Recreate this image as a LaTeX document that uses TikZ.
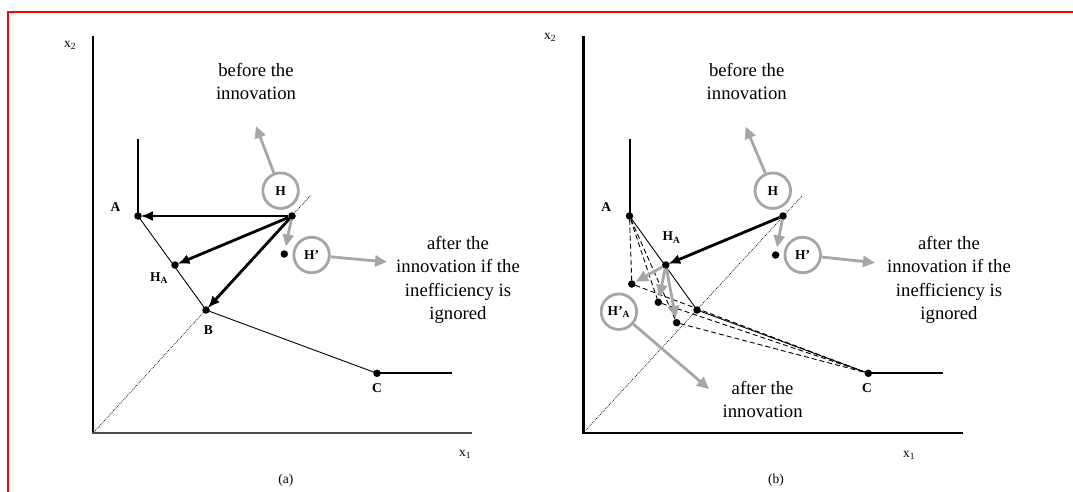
\documentclass[tikz,border=0pt]{standalone}
\usepackage{fontspec}
\setmainfont{Liberation Serif}
\usetikzlibrary{arrows.meta}
\definecolor{cgray}{RGB}{166,166,166}
\definecolor{axgray}{RGB}{80,80,80}
\begin{document}
\begin{tikzpicture}[x=1pt,y=-1pt,
  dot/.style={circle,fill=black,inner sep=0pt,minimum size=7.5pt,outer sep=0pt},
  lbl/.style={font=\fontsize{13.5}{15}\selectfont\bfseries,inner sep=0pt},
  circ/.style={circle,draw=cgray,line width=2.8pt,minimum size=35.5pt,inner sep=0pt,font=\fontsize{13.5}{15}\selectfont\bfseries},
  txt/.style={align=center,inner sep=0pt,font=\fontsize{18.7}{23.5}\selectfont},
  axlbl/.style={font=\fontsize{13.5}{15}\selectfont,inner sep=0pt},
  yaxis/.style={line width=2.2pt,black},
  blkarr/.style={line width=2.8pt,-{Latex[length=12pt,width=10pt]},shorten >=-1pt},
  grayarr/.style={draw=cgray,line width=2.8pt,-{Triangle[length=12pt,width=11pt]}},
  thinline/.style={line width=0.9pt},
  thickline/.style={line width=2pt},
  diag/.style={line width=0.7pt,dash pattern=on 0.8pt off 1.1pt},
  dashline/.style={line width=0.9pt,dash pattern=on 5pt off 3pt}
]
\useasboundingbox (0,0) rectangle (1073,492);
% red frame
\coordinate (fr1) at (7.5,492);
\coordinate (fr2) at (7.5,12);
\coordinate (fr3) at (1073,12);
\draw[red,line width=2pt] (fr1) -- (fr2) -- (fr3);

%%%%%%%%%%%%%%%% Panel (a)
\coordinate (aYt) at (93,36);
\coordinate (aOr) at (93,434);
\coordinate (aXs) at (92,433);
\coordinate (aXe) at (472,433);
\draw[yaxis] (aYt) -- (aOr);
\draw[axgray,line width=1.8pt] (aXs) -- (aXe);
\coordinate (aD0) at (94,432);
\coordinate (aD1) at (311,195);
\draw[diag] (aD0) -- (aD1);

\node[dot] (aA) at (138,216) {};
\node[dot] (aHA) at (175,265) {};
\node[dot] (aB) at (206,310) {};
\node[dot] (aC) at (377,373.3) {};
\node[dot] (aH) at (292,216) {};
\node[dot] (aHp) at (284.3,254) {};
\coordinate (aAtop) at (138,139);
\coordinate (aCend) at (452,373.3);

\draw[thickline] (aAtop) -- (aA.center);
\draw[thinline] (aA.center) -- (aB.center) -- (aC.center);
\draw[thickline] (aC.center) -- (aCend);

\node[lbl] (alA) at (115.4,207) {A};
\node[lbl] (alHA) at (159,278) {H\textsubscript{A}};
\node[lbl] (alB) at (208.3,330) {B};
\node[lbl] (alC) at (377,388) {C};

\node[axlbl] (ax2) at (70,45) {x\textsubscript{2}};
\node[axlbl] (ax1) at (465,454) {x\textsubscript{1}};
\node[axlbl] (acap) at (285.8,480) {(a)};

\node[circ] (aHc) at (280.6,190.7) {H};
\node[circ] (aHpc) at (311.6,255) {H’};

\node[txt] (aBef) at (256,81.5) {before the\\innovation};
\node[txt] (aAft) at (458,280) {after the\\innovation if the\\inefficiency is\\ignored};

\coordinate (aBefTip) at (256,126);
\coordinate (aAftTip) at (387,262);

\draw[blkarr] (aH) -- (aA);
\draw[blkarr] (aH) -- (aHA);
\draw[blkarr] (aH) -- (aB);
\draw[grayarr,shorten >=4pt] (aH) -- (aHp);
\draw[grayarr] (aHc) -- (aBefTip);
\draw[grayarr] (aHpc) -- (aAftTip);

%%%%%%%%%%%%%%%% Panel (b)
\coordinate (bYt) at (583.5,36);
\coordinate (bOr) at (583.5,434);
\coordinate (bXs) at (582.5,433);
\coordinate (bXe) at (963,433);
\draw[yaxis] (bYt) -- (bOr);
\draw[black,line width=2.2pt] (bXs) -- (bXe);
\coordinate (bD0) at (586,430);
\coordinate (bD1) at (802,196);
\draw[diag] (bD0) -- (bD1);

\node[dot] (bA) at (629.5,216) {};
\node[dot] (bHA) at (665.8,265) {};
\node[dot] (bB) at (697,310) {};
\node[dot] (bC) at (868.3,373.3) {};
\node[dot] (bH) at (783,216) {};
\node[dot] (bHp) at (775.6,255) {};
\node[dot] (bd1) at (631.8,284) {};
\node[dot] (bd2) at (658.3,302.3) {};
\node[dot] (bd3) at (676.6,322.7) {};
\coordinate (bAtop) at (629.5,139);
\coordinate (bCend) at (942.8,373.3);

\draw[thickline] (bAtop) -- (bA.center);
\draw[thinline] (bA.center) -- (bB.center) -- (bC.center);
\draw[thickline] (bC.center) -- (bCend);

\draw[dashline] (bA) -- (bd1);
\draw[dashline] (bA) -- (bd2);
\draw[dashline] (bA) -- (bd3);
\draw[dashline] (bd1) -- (bC);
\draw[dashline] (bd2) -- (bC);
\draw[dashline] (bd3) -- (bC);

\node[lbl] (blA) at (606.3,207) {A};
\node[lbl] (blHA) at (671.5,237.5) {H\textsubscript{A}};
\node[lbl] (blC) at (867,388) {C};

\node[axlbl] (bx2) at (550,37) {x\textsubscript{2}};
\node[axlbl] (bx1) at (909,455) {x\textsubscript{1}};
\node[axlbl] (bcap) at (776,480) {(b)};

\node[circ] (bHc) at (772.8,190.7) {H};
\node[circ] (bHpc) at (802.7,255) {H’};
\node[circ] (bHpAc) at (618.9,311.7) {H’\textsubscript{A}};

\node[txt] (bBef) at (746.7,81.5) {before the\\innovation};
\node[txt] (bAft) at (949,280) {after the\\innovation if the\\inefficiency is\\ignored};
\node[txt] (bAft2) at (762.6,399.5) {after the\\innovation};

\coordinate (bBefTip) at (745.6,126.7);
\coordinate (bAftTip) at (875,262.7);
\coordinate (bAft2Tip) at (709,389);

\draw[blkarr] (bH) -- (bHA);
\draw[grayarr,shorten >=4pt] (bH) -- (bHp);
\draw[grayarr] (bHc) -- (bBefTip);
\draw[grayarr] (bHpc) -- (bAftTip);
\draw[grayarr] (bHpAc) -- (bAft2Tip);
\draw[grayarr,shorten >=1pt] (bHA) -- (bd1);
\draw[grayarr,shorten >=2pt] (bHA) -- (bd2);
\draw[grayarr,shorten >=1pt] (bHA) -- (bd3);
\end{tikzpicture}
\end{document}
